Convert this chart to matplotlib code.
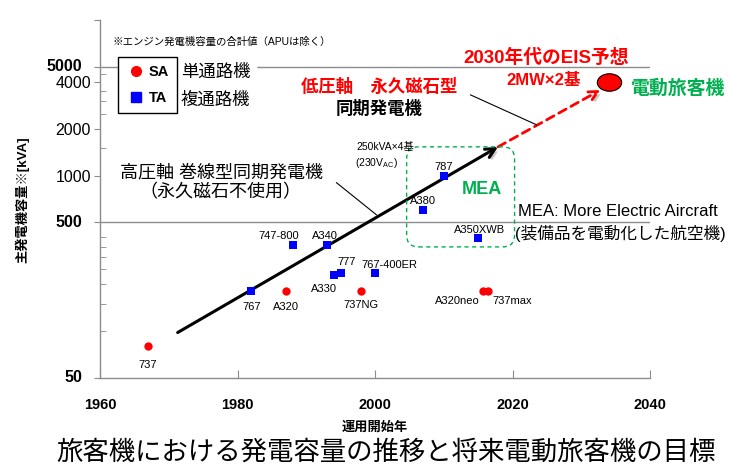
import matplotlib
matplotlib.use('Agg')
import matplotlib.pyplot as plt
from matplotlib.patches import FancyBboxPatch
from matplotlib.path import Path
from matplotlib.transforms import Affine2D, IdentityTransform
from matplotlib.lines import Line2D
from matplotlib import patheffects as pe

plt.rcParams['font.family'] = ['Liberation Sans', 'Noto Sans CJK JP']
plt.rcParams['mathtext.fontset'] = 'custom'
plt.rcParams['mathtext.rm'] = 'Liberation Sans'

# ---------------- data ----------------
sa_names = ['737', 'A320', '737NG', 'A320neo', '737max']
sa_years = [1967, 1987, 1998, 2015.7, 2016.5]
sa_kva = [80, 180, 180, 180, 180]

ta_names = ['767', '747-800', 'A340', 'A330', '777', '767-400ER', 'A380', '787', 'A350XWB']
ta_years = [1982, 1988, 1993, 1994, 1995, 2000, 2007, 2010, 2015]
ta_kva = [180, 360, 360, 228, 238, 238, 600, 1000, 395]

eis_year = [2034]
eis_kva = [4000]

trend_years = [1971.3, 2017.9]
trend_kva = [98, 1530]
forecast_years = [2017.9, 2032.8]
forecast_kva = [1530, 3550]

leader_hv_years = [1994.4, 2000.2]
leader_hv_kva = [900, 560]
leader_lv_years = [2013.9, 2023.5]
leader_lv_kva = [3300, 2120]

mea_years = [2004.6, 2020.3]
mea_kva = [348, 1530]

x_ticks = [1960, 1980, 2000, 2020, 2040]
y_ticks_regular = [1000, 2000, 4000]
y_ticks_bold = [50, 500, 5000]
y_minor = [100, 150, 200, 250, 300, 350, 400, 1500, 2500, 3000, 3500, 4500]
grid_values = [500, 5000]

# label offsets in pixels (dx, dy downwards), alignment
sa_label_pos = [(0, 19, 'center'), (0, 16, 'center'), (0, 14, 'center'), (-3, 10, 'right'), (4, 10, 'left')]
ta_label_pos = [(0, 16, 'center'), (-14, -9, 'center'), (-2, -9, 'center'), (-10, 14, 'center'),
                (6, -11, 'center'), (14, -8, 'center'), (0, -9, 'center'), (0, -9, 'center'), (1, -8, 'center')]

RED = '#FF0000'
BLUE = '#0000FF'
GREEN = '#00B050'
GRAY = '#8C8C8C'

W, H = 729, 468
fx = lambda x: x / W
fy = lambda y: 1 - y / H

fig = plt.figure(figsize=(W / 100, H / 100), dpi=100)
ax = fig.add_axes([fx(100), fy(378), 550 / W, 358 / H])
ax.set_yscale('log')
ax.set_xlim(1960, 2040)
ax.set_ylim(50, 10000)

for s in ['top', 'right']:
    ax.spines[s].set_visible(False)
for s in ['left', 'bottom']:
    ax.spines[s].set_color(GRAY)
    ax.spines[s].set_linewidth(1.0)

for v in grid_values:
    ax.axhline(v, color=GRAY, lw=1.0, zorder=1)

ax.set_xticks(x_ticks)
ax.set_xticklabels(['' for _ in x_ticks])
ax.tick_params(axis='x', direction='in', length=6, color=GRAY)
xtrans = ax.get_xaxis_transform()
for t in x_ticks:
    ax.text(t, -27 / 358, str(t), transform=xtrans, ha='center', va='center',
            fontsize=10.5, fontweight='bold')

ax.set_yticks(y_ticks_regular + y_ticks_bold + [10000])
ax.set_yticklabels([str(v) for v in y_ticks_regular] + ['' for _ in y_ticks_bold] + [''])
ax.set_yticks(y_minor, minor=True)
ax.yaxis.set_minor_formatter(plt.NullFormatter())
ax.tick_params(axis='y', which='major', direction='out', length=4, color=GRAY, pad=2.5, labelsize=11.5)
ax.tick_params(axis='y', which='minor', direction='in', length=4, color=GRAY)
ytrans = ax.get_yaxis_transform()
for v in y_ticks_bold:
    ax.text(-18 / 550, v, str(v), transform=ytrans, ha='right', va='center',
            fontsize=11.5, fontweight='bold')

# trend arrows
a1 = ax.annotate('', xy=(trend_years[1], trend_kva[1]), xytext=(trend_years[0], trend_kva[0]),
                 arrowprops=dict(arrowstyle='->', lw=2.2, color='black', mutation_scale=17,
                                 shrinkA=0, shrinkB=0), zorder=3)
a1.arrow_patch.set_path_effects([pe.SimplePatchShadow(offset=(2, -2), alpha=0.3), pe.Normal()])
a2 = ax.annotate('', xy=(forecast_years[1], forecast_kva[1]), xytext=(forecast_years[0], forecast_kva[0]),
                 arrowprops=dict(arrowstyle='->', lw=2.0, color=RED, linestyle=(0, (3, 2)),
                                 mutation_scale=16, shrinkA=0, shrinkB=0), zorder=3)
a2.arrow_patch.set_path_effects([pe.SimplePatchShadow(offset=(2, -2), alpha=0.3), pe.Normal()])

ax.plot(leader_hv_years, leader_hv_kva, color='black', lw=0.8, zorder=3)
ax.plot(leader_lv_years, leader_lv_kva, color='black', lw=0.8, zorder=3)

# data points
ax.scatter(sa_years, sa_kva, marker='o', s=36, color=RED, zorder=4, linewidths=0)
ax.scatter(ta_years, ta_kva, marker='s', s=36, color=BLUE, zorder=4, linewidths=0)

ell = Path.unit_circle().transformed(Affine2D().scale(1.0, 0.72))
ax.scatter(eis_year, eis_kva, marker=ell, s=17.5 ** 2, color=RED, edgecolors='black',
           linewidths=0.8, zorder=5)

for name, x, y, (dx, dy, ha) in zip(sa_names, sa_years, sa_kva, sa_label_pos):
    ax.annotate(name, (x, y), xytext=(dx * 0.72, -dy * 0.72), textcoords='offset points',
                ha=ha, va='center', fontsize=8, zorder=6)
for name, x, y, (dx, dy, ha) in zip(ta_names, ta_years, ta_kva, ta_label_pos):
    ax.annotate(name, (x, y), xytext=(dx * 0.72, -dy * 0.72), textcoords='offset points',
                ha=ha, va='center', fontsize=8, zorder=6)

# MEA rounded dashed box (computed from data coordinates)
p0 = ax.transData.transform((mea_years[0], mea_kva[0]))
p1 = ax.transData.transform((mea_years[1], mea_kva[1]))
box = FancyBboxPatch((p0[0], p0[1]), p1[0] - p0[0], p1[1] - p0[1],
                     boxstyle='round,pad=0,rounding_size=12', fill=False,
                     edgecolor=GREEN, lw=1.0, linestyle=(0, (3, 2.5)),
                     transform=IdentityTransform())
fig.add_artist(box)

# legend
handles = [Line2D([], [], marker='o', color=RED, linestyle='none', markersize=7),
           Line2D([], [], marker='s', color=BLUE, linestyle='none', markersize=6.5)]
leg = fig.legend(handles, ['SA', 'TA'], loc='upper left', bbox_to_anchor=(fx(118), fy(57)),
                 borderaxespad=0, fancybox=False, edgecolor='black', framealpha=1,
                 prop={'weight': 'bold', 'size': 10.5}, handlelength=1.4, handletextpad=0.15,
                 labelspacing=0.85, borderpad=0.55)
leg.get_frame().set_linewidth(1.0)

# texts
fig.text(fx(113), fy(42), '※エンジン発電機容量の合計値（APUは除く）', fontsize=7.5, va='center')
fig.text(fx(181), fy(72), '単通路機', fontsize=12.5, va='center', backgroundcolor='white')
fig.text(fx(181), fy(100), '複通路機', fontsize=12.5, va='center')
fig.text(fx(546), fy(58), '2030年代のEIS予想', color=RED, fontsize=13.5, fontweight='bold',
         ha='center', va='center')
fig.text(fx(544), fy(81), '2MW×2基', color=RED, fontsize=12, fontweight='bold',
         ha='center', va='center')
fig.text(fx(631), fy(89), '電動旅客機', color=GREEN, fontsize=13.6, fontweight='bold',
         ha='left', va='center')
fig.text(fx(379), fy(86), '低圧軸　永久磁石型', color=RED, fontsize=12.5, fontweight='bold',
         ha='center', va='center')
fig.text(fx(379), fy(108), '同期発電機', color='black', fontsize=12.5, fontweight='bold',
         ha='center', va='center')
fig.text(fx(356), fy(147), '250kVA×4基', fontsize=7.5, va='center')
fig.text(fx(355), fy(163), '(230V$_{\\rm AC}$)', fontsize=7.5, va='center')
fig.text(fx(221), fy(173), '高圧軸 巻線型同期発電機', fontsize=13, ha='center', va='center')
fig.text(fx(220), fy(193), '（永久磁石不使用）', fontsize=13, ha='center', va='center')
fig.text(fx(482), fy(190), 'MEA', color=GREEN, fontsize=13, fontweight='bold',
         ha='center', va='center')
fig.text(fx(518), fy(212), 'MEA: More Electric Aircraft', fontsize=12, va='center')
fig.text(fx(515), fy(233), '(装備品を電動化した航空機)', fontsize=12, va='center')
fig.text(fx(22), fy(200), '主発電機容量※[kVA]', rotation=90, fontsize=9.5, fontweight='bold',
         ha='center', va='center')
fig.text(fx(375), fy(428), '運用開始年', fontsize=9.5, fontweight='bold', ha='center', va='center')
fig.text(fx(386), fy(452), '旅客機における発電容量の推移と将来電動旅客機の目標', fontsize=19,
         ha='center', va='center')

fig.savefig('out.png', dpi=100)
